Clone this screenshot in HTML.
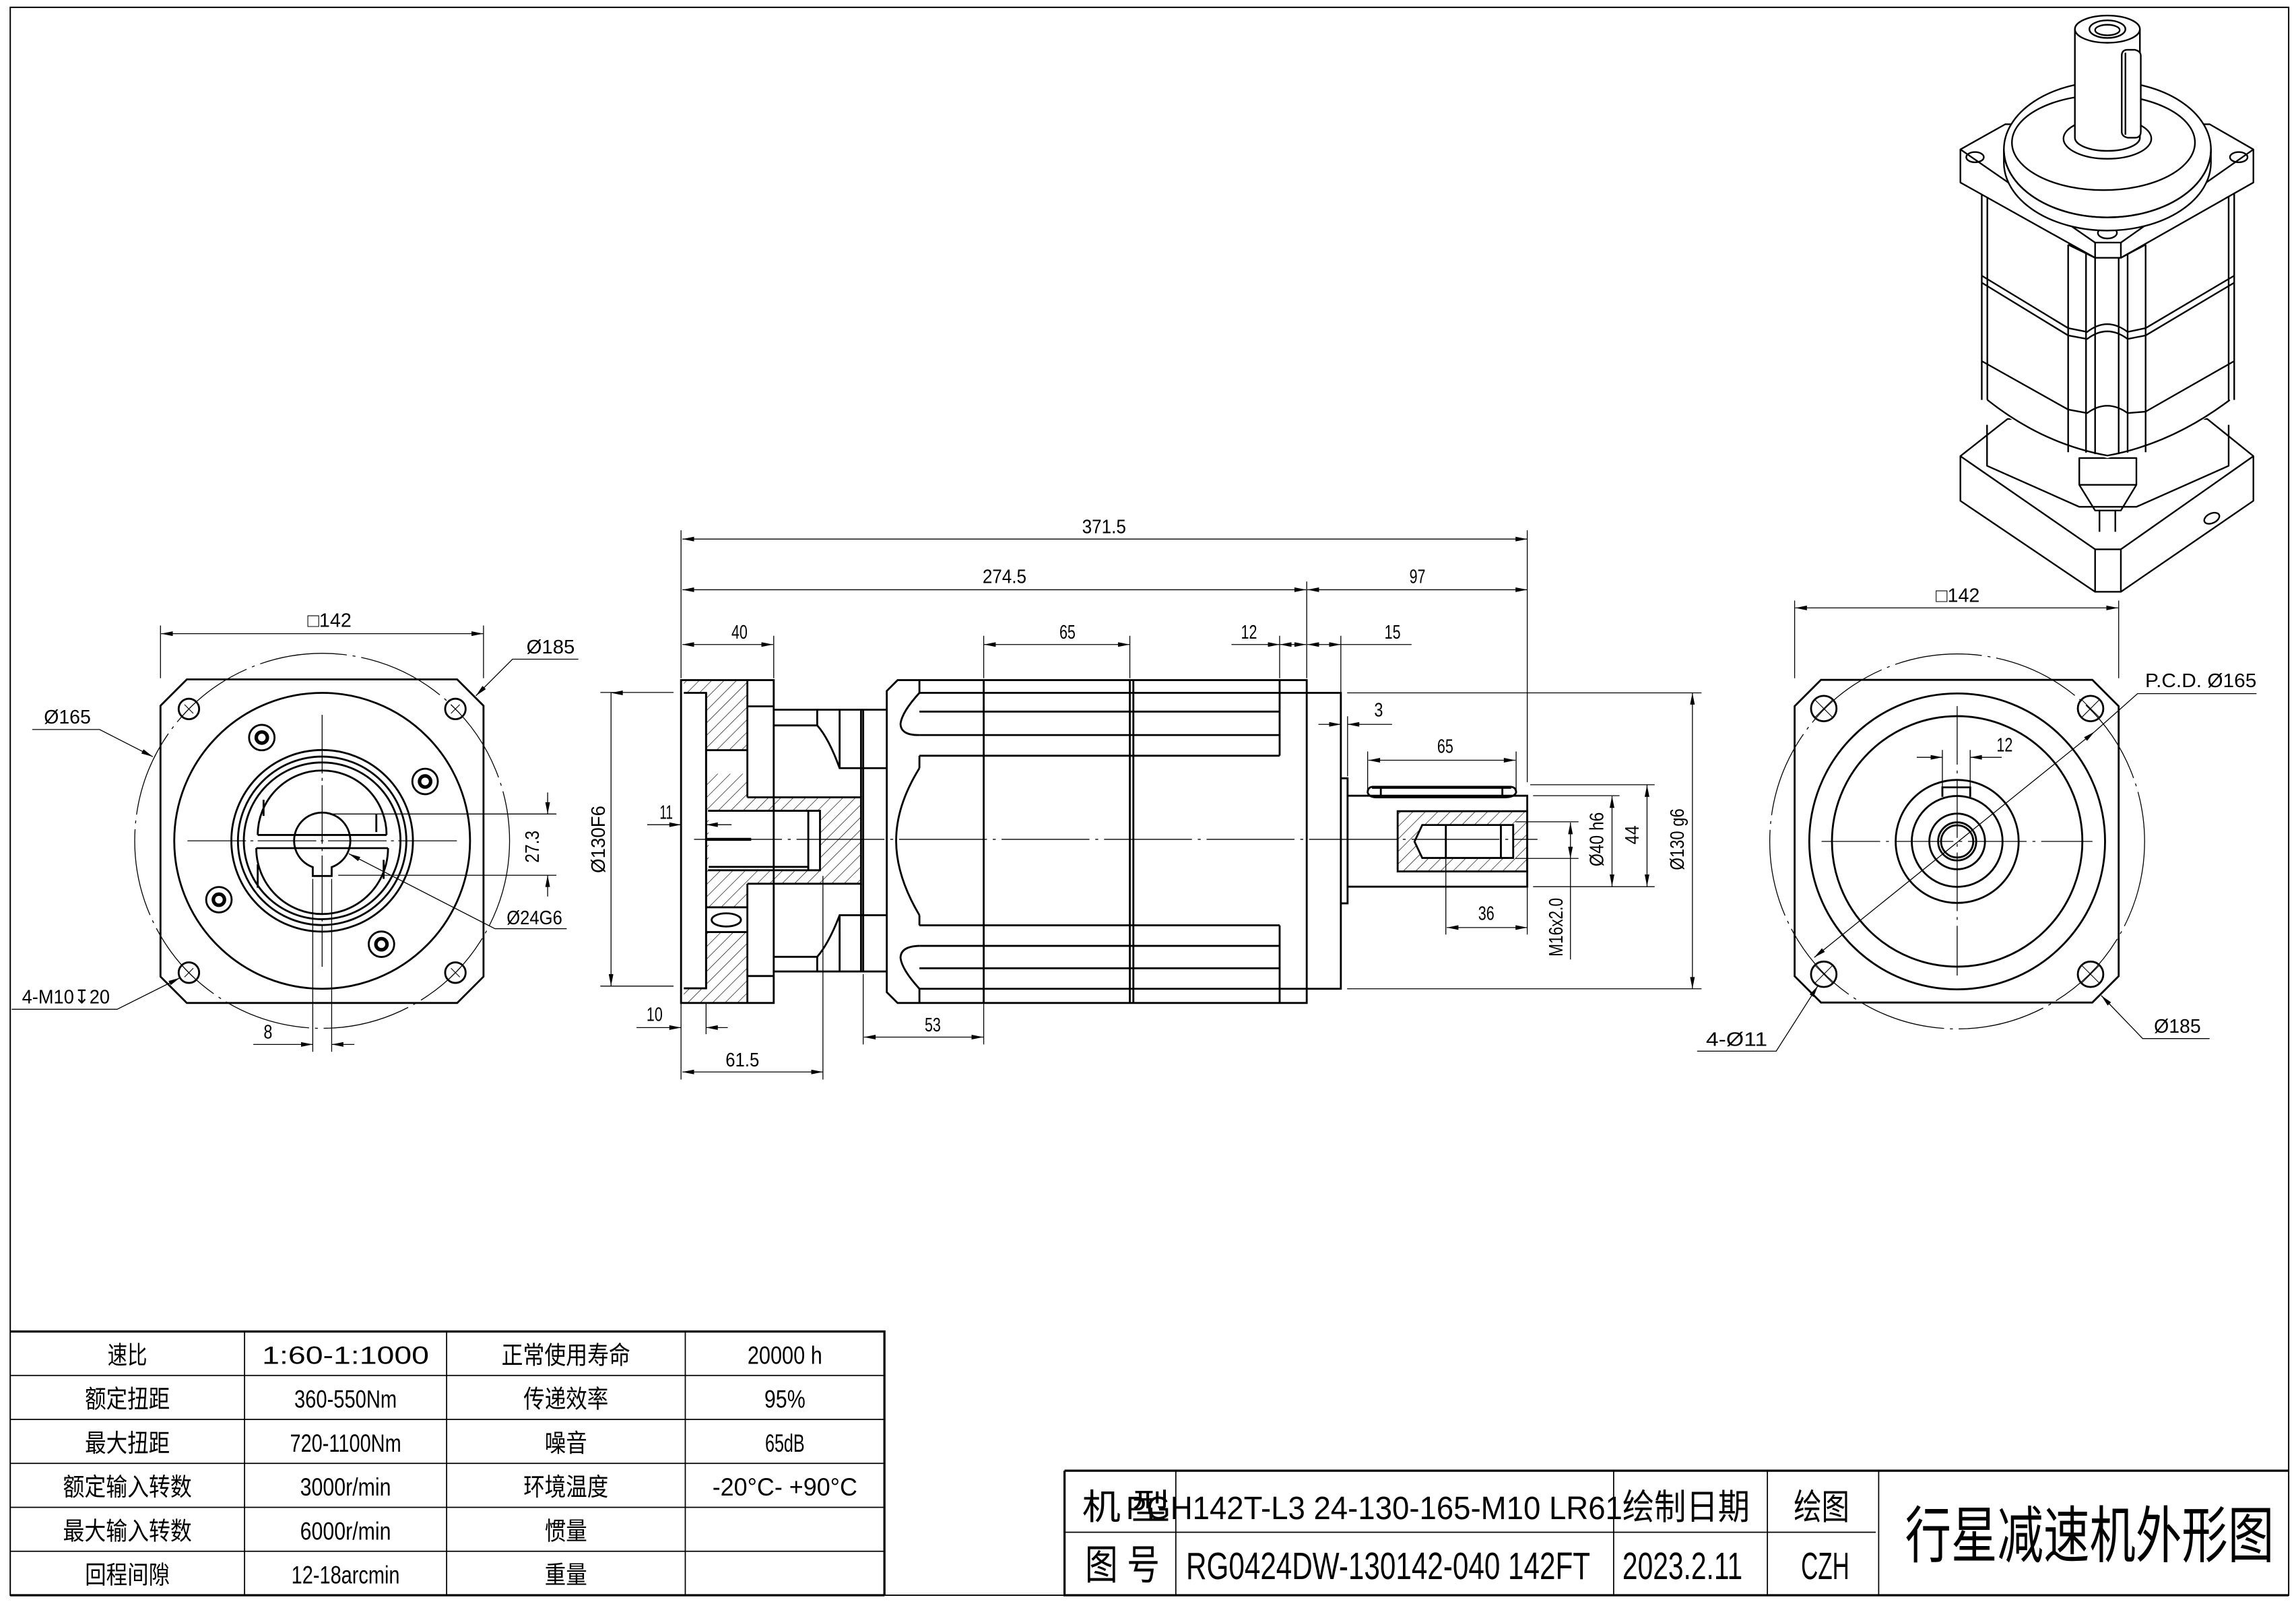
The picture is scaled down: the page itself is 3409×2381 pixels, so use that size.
<!DOCTYPE html>
<html><head><meta charset="utf-8"><style>
html,body{margin:0;padding:0;background:#fff;}
svg{display:block;}
text{font-family:"Liberation Sans","Noto Sans CJK SC",sans-serif;fill:#000;}
</style></head><body>
<svg xmlns="http://www.w3.org/2000/svg" width="3409" height="2381" viewBox="0 0 1568 1095" preserveAspectRatio="none">
<defs>
<marker id="a" viewBox="0 0 10 4" refX="10" refY="2" markerWidth="9" markerHeight="3.2" markerUnits="userSpaceOnUse" orient="auto-start-reverse"><path d="M0,0L10,2L0,4z" fill="#000"/></marker>
<pattern id="h" patternUnits="userSpaceOnUse" width="6" height="6" patternTransform="rotate(45)"><line x1="0" y1="0" x2="0" y2="6" stroke="#000" stroke-width="0.6"/></pattern>
</defs>
<rect width="1568" height="1095" fill="#fff"/>
<path d="M7,5H1563V1089H7Z" fill="none" stroke="#000" stroke-width="0.9"/>

<g fill="none" stroke="#000" stroke-width="0.6">
<g stroke-width="1.3">
<path d="M127.6,463.8H312.2L330.2,481.8V666.7L312.2,684.7H127.6L109.6,666.7V481.8Z"/>
<circle cx="220" cy="574" r="101"/>
<circle cx="220" cy="574" r="62"/>
<circle cx="220" cy="574" r="57.5"/>
<circle cx="220" cy="574" r="53.5"/>
<path d="M176,570A44,44 0 0 1 264,570"/>
<path d="M175,579A45,45 0 0 0 265,579"/>
<path d="M176,570H264M175,579H265"/>
<path d="M180,546V557M257,556V568M176,590V606M262,587V600"/>
<path d="M213.6,592A19.2,19.2 0 1 1 226.5,592V598H213.6Z"/>
<circle cx="129" cy="484" r="7"/><circle cx="311" cy="484" r="7"/>
<circle cx="129" cy="664" r="7"/><circle cx="311" cy="664" r="7"/>
<circle cx="178.8" cy="503.5" r="8.7"/><circle cx="290.3" cy="533.5" r="8.7"/>
<circle cx="149.5" cy="614.2" r="8.7"/><circle cx="260.5" cy="644.6" r="8.7"/>
</g>
<g stroke-width="2.4">
<circle cx="178.8" cy="503.5" r="3.8"/><circle cx="290.3" cy="533.5" r="3.8"/>
<circle cx="149.5" cy="614.2" r="3.8"/><circle cx="260.5" cy="644.6" r="3.8"/>
</g>
<circle cx="220" cy="574" r="128" stroke-dasharray="60,4,2,4"/>
<path d="M128,574H312M220,488V660" stroke-dasharray="40,3,2,3"/>
<path d="M126,481l6,6M132,481l-6,6M308,481l6,6M314,481l-6,6M126,661l6,6M132,661l-6,6M308,661l6,6M314,661l-6,6" stroke-width="0.5"/>
<path d="M109.6,463V427M330.2,463V427"/>
<path d="M110,432.6H330" marker-start="url(#a)" marker-end="url(#a)"/>
<path d="M325,475L350,450H395" marker-start="url(#a)"/>
<path d="M22,498H68L104.4,516.6" marker-end="url(#a)"/>
<path d="M8,689H80L123,667.5" marker-end="url(#a)"/>
<path d="M238.2,582.8L338,634H387" marker-start="url(#a)"/>
<path d="M227,555.7H380M231,597.5H380"/>
<path d="M374,541V555.7" marker-end="url(#a)"/><path d="M374,612V597.5" marker-end="url(#a)"/>
<path d="M213.6,600V718M226.5,600V718"/>
<path d="M173,713H213.6" marker-end="url(#a)"/><path d="M242,713H226.5" marker-end="url(#a)"/>

<path d="M467,464.3H510.4V512.1H482.2V473H467Z" fill="url(#h)" stroke="none"/>
<path d="M482.2,528.2H510.4V544.3H588V603.3H510.4V619.4H482.2Z M484,553.5H560V594.1H484Z" fill="url(#h)" fill-rule="evenodd" stroke="none"/>
<path d="M482.2,636.3H510.4V684.7H467V674.7H482.2Z" fill="url(#h)" stroke="none"/>
<path d="M954.5,553.8H1043V594.9H954.5Z M966,574.5L971.3,563.2H1033.4V585.7H971.3Z" fill="url(#h)" fill-rule="evenodd" stroke="none"/>
<g stroke-width="1.3">
<path d="M465.1,464.3H528.4V684.7H465.1Z"/>
<path d="M467,473H482.2V674.7H467"/>
<path d="M482.2,473V512.1H510.4M482.2,528.2V619.4H510.4M482.2,636.3V674.7"/>
<path d="M482.2,512.1V528.2M510.4,464.3V544.3M510.4,603.3V684.7M510.4,482.2H528.4M510.4,666.3H528.4M510.4,528.2V544.3M510.4,619.4V636.3H482.2"/>
<ellipse cx="496" cy="628" rx="10" ry="4.5"/>
<path d="M483.5,553.5H560V594.1H483.5M484,591.8H552M552,553.5V594.1"/>
<path d="M482.5,573H513" stroke-width="2"/>
<path d="M510.4,544.3H588V603.3H510.4"/>
<path d="M528.4,484.5H605.6M528.4,663.2H605.6M528.4,495.2H558.1Q566,504 573.4,524.4H605.6M528.4,653.2H558.1Q566,644 573.4,624.8H605.6"/>
<path d="M558.1,484.5V495.2M573.4,484.5V524.4M558.1,653.2V663.2M573.4,624.8V663.2"/>
<path d="M588,484.5V544.3M588,603.3V663.2M589.5,484.5V663.2"/>
<path d="M613,464.3H892.4V684.7H613L605.6,677.3V471.7Z"/>
<path d="M671.8,464.3V684.7M771.6,464.3V684.7M774,464.3V684.7"/>
<path d="M627.9,464.3V473M627.9,515.9V524.4M627.9,624.8V631.7M627.9,674.7V684.7"/>
<path d="M627.9,473H892.4M627.9,485.8H873.9M627.9,501.8H873.9M627.9,515.9H873.9"/>
<path d="M627.9,675H892.4M627.9,661H873.9M627.9,645.7H873.9M627.9,631.7H873.9"/>
<path d="M873.9,464.3V515.9M873.9,631.7V684.7"/>
<path d="M627.9,473Q616,486 615,494Q615,502 627.9,501.8"/>
<path d="M627.9,675Q616,662 615,654Q615,646 627.9,645.7"/>
<path d="M627.9,524.4Q612,550 612,574Q612,598 627.9,624.8"/>
<path d="M892.4,473H915.7V675H892.4"/>
<path d="M915.7,531.3H920.3V616.7H915.7"/>
<path d="M920.3,543.2H1043V605.3H920.3"/>
<path d="M938,537.1H1031Q1035.4,537.1 1035.4,541Q1034,544.3 1028,544.3H940Q935,544.3 934,541Q934,537.1 938,537.1Z"/>
<path d="M943,537.5V544M1026,537.5V544"/>
<path d="M954.5,553.8H1043V594.9H954.5Z"/>
<path d="M971.3,563.2H1033.4V585.7H971.3L966,574.5Z"/>
<path d="M987.4,563.2V585.7M1025,563.2V585.7"/>
<path d="M937,537.5H1032" stroke-width="2"/>
</g>
<path d="M474,573H1050" stroke-dasharray="60,4,2,4"/>
<path d="M465.1,463V362M1043,534V362M892.4,463V397M528.4,463V434M671.8,463V434M771.6,463V434M873.9,463V434M915.7,473V434M920.3,530V489"/>
<path d="M466,368H1043" marker-start="url(#a)" marker-end="url(#a)"/>
<path d="M466,402.6H892" marker-start="url(#a)" marker-end="url(#a)"/>
<path d="M892.8,402.6H1043" marker-start="url(#a)" marker-end="url(#a)"/>
<path d="M466,440H528" marker-start="url(#a)" marker-end="url(#a)"/>
<path d="M672,440H771.5" marker-start="url(#a)" marker-end="url(#a)"/>
<path d="M841,440H873.9" marker-end="url(#a)"/>
<path d="M874,440H892" marker-start="url(#a)" marker-end="url(#a)"/>
<path d="M892.8,440H915.7" marker-start="url(#a)" marker-end="url(#a)"/>
<path d="M916,440H964"/>
<path d="M900.4,494.5H915.7" marker-end="url(#a)"/><path d="M950.7,494.5H920.3" marker-end="url(#a)"/>
<path d="M934,541V513M1035.4,541V513"/>
<path d="M934.5,519H1035" marker-start="url(#a)" marker-end="url(#a)"/>
<path d="M987.4,586V638M1043,606V638"/>
<path d="M988,633.2H1043" marker-start="url(#a)" marker-end="url(#a)"/>
<path d="M410,472.7H460M410,673.2H460"/>
<path d="M417.3,473H417.3V673" marker-start="url(#a)" marker-end="url(#a)"/>
<path d="M442,563H465.1" marker-end="url(#a)"/><path d="M499.6,563H482.2" marker-end="url(#a)"/>
<path d="M465.1,685V737M482.2,685V706M562,598V737M589.5,665V713M671.8,685V713"/>
<path d="M434.7,701.5H465.1" marker-end="url(#a)"/><path d="M497,701.5H482.2" marker-end="url(#a)"/>
<path d="M590,708H671.5" marker-start="url(#a)" marker-end="url(#a)"/>
<path d="M466,731.8H562" marker-start="url(#a)" marker-end="url(#a)"/>
<path d="M920,473H1162M920,675H1162M1045,535.7H1130M1047,543.2H1106M1047,605.3H1130M1035,561H1078M1035,586H1078"/>
<path d="M1155.8,473V675" marker-start="url(#a)" marker-end="url(#a)"/>
<path d="M1124.8,536V605" marker-start="url(#a)" marker-end="url(#a)"/>
<path d="M1100.9,543.5V605" marker-start="url(#a)" marker-end="url(#a)"/>
<path d="M1072.5,561.5V586" marker-start="url(#a)" marker-end="url(#a)"/>
<path d="M1072.5,586V655"/>

<g stroke-width="1.3">
<path d="M1243.6,464.1H1428.9L1446.9,482.1V666.4L1428.9,684.4H1243.6L1225.6,666.4V482.1Z"/>
<circle cx="1336.6" cy="574.4" r="101"/>
<circle cx="1336.6" cy="574.4" r="85.5"/>
<circle cx="1336.6" cy="574.4" r="42"/>
<circle cx="1336.6" cy="574.4" r="31"/>
<circle cx="1336.6" cy="574.4" r="19"/>
<circle cx="1336.6" cy="574.4" r="13"/>
<circle cx="1336.6" cy="574.4" r="11"/>
<path d="M1326.5,544V537.5H1345.5V544"/>
<circle cx="1245.5" cy="483.7" r="8.7"/><circle cx="1427.7" cy="483.7" r="8.7"/>
<circle cx="1245.5" cy="665.1" r="8.7"/><circle cx="1427.7" cy="665.1" r="8.7"/>
</g>
<circle cx="1336.6" cy="574.4" r="128" stroke-dasharray="60,4,2,4"/>
<path d="M1244,574.4H1429M1336.6,482V666" stroke-dasharray="40,4,2,4"/>
<path d="M1239.5,477.7l12,12M1251.5,477.7l-12,12M1421.7,477.7l12,12M1433.7,477.7l-12,12M1239.5,659.1l12,12M1251.5,659.1l-12,12M1421.7,659.1l12,12M1433.7,659.1l-12,12" stroke-width="0.5"/>
<path d="M1225.6,463V410M1446.9,463V410"/>
<path d="M1226,415H1446.5" marker-start="url(#a)" marker-end="url(#a)"/>
<path d="M1326.5,537V512M1345.5,537V512"/>
<path d="M1309,517H1326.5" marker-end="url(#a)"/><path d="M1367,517H1345.5" marker-end="url(#a)"/>
<path d="M1239,653.6L1430.5,499.5" marker-start="url(#a)" marker-end="url(#a)"/>
<path d="M1430.5,499.5L1459.8,473.5H1541"/>
<path d="M1159,717.6H1213L1241.5,673" marker-end="url(#a)"/>
<path d="M1509,709H1463.3L1435,679.6" marker-end="url(#a)"/>

<g stroke-width="1.1" stroke-linejoin="round">
<path d="M1338.8,311.4L1371,286L1507.4,286L1538.9,311.4V341.9L1448.4,404H1430.8L1338.8,341.9Z" fill="#fff"/>
<path d="M1338.8,311.4L1430.8,375H1448.4L1538.9,311.4M1430.8,375V404M1448.4,375V404"/>
<path d="M1357,290V318L1420,346H1459L1522,318V290"/>
<path d="M1420,312.7H1459V331H1420Z M1420,331L1430.8,348.5H1448.4L1459,331M1433.8,348.5V363M1444.6,348.5V363"/>
<ellipse cx="1510.5" cy="353.8" rx="5.5" ry="3.3" transform="rotate(-25 1510.5 353.8)"/>
<path d="M1353.4,124V273Q1395,303 1439.2,312.7Q1483,303 1525.8,273V124Z" fill="#fff" stroke="none"/>
<path d="M1353.4,130V273M1357.2,130V273M1522,130V273M1525.8,130V273"/>
<path d="M1357.2,273Q1395,303 1439.2,311Q1483,303 1522.8,273"/>
<path d="M1353.4,188.2L1412.4,224L1425.4,226.6Q1439,216 1453,226.6L1465.3,224L1525.8,188.2"/>
<path d="M1353.4,193L1412.4,229L1425.4,231.4Q1439,221 1453,231.4L1465.3,229L1525.8,193"/>
<path d="M1353.4,246.5L1412.4,279.6L1425.4,282Q1439,272 1453,282L1465.3,281L1525.8,246.5"/>
<path d="M1412.4,167V308.7M1424.6,173V309M1430.8,176V310M1446.9,176V310M1453,173V309M1465.3,167V308.7"/>
<path d="M1412.4,167L1430.8,176M1465.3,167L1448.4,176"/>
<path d="M1369.5,84.8L1338.8,102V124.6L1430.8,176H1448.4L1538.9,124.6V102L1509,84.8Z" fill="#fff"/>
<path d="M1338.8,102L1430.8,165.6H1448.4L1538.9,102M1430.8,165.6V176M1448.4,165.6V176"/>
<ellipse cx="1348.8" cy="107.3" rx="6" ry="3.5"/>
<ellipse cx="1528.9" cy="107.3" rx="6" ry="3.5"/>
<ellipse cx="1439.2" cy="159" rx="6.5" ry="3.8"/>
<path d="M1368.5,102V111A70.7,46.4 0 0 0 1509.9,111V102Z" fill="#fff"/>
<ellipse cx="1439.2" cy="102" rx="70.7" ry="46.4" fill="#fff"/>
<path d="M1368.5,102A70.7,46.4 0 0 0 1509.9,102"/>
<ellipse cx="1436.5" cy="97.3" rx="62.5" ry="32.5"/>
<ellipse cx="1439.2" cy="94.6" rx="30" ry="13.8" fill="#fff"/>
<path d="M1417,19.9V94A22.2,9 0 0 0 1461.4,94V19.9Z" fill="#fff"/>
<ellipse cx="1439.2" cy="19.9" rx="22.2" ry="9.3" fill="#fff"/>
<ellipse cx="1439.2" cy="19.9" rx="12.3" ry="6"/>
<ellipse cx="1439.2" cy="20.5" rx="8.4" ry="3.6"/>
<path d="M1449,38Q1449,34 1453,34H1458Q1462,35 1462,38V90Q1462,94 1458,94H1453Q1449,93 1449,90Z" fill="#fff"/>
<path d="M1451.5,36V92"/>
</g>

<g stroke-width="0.8">
<path d="M7,939H604M7,969H604M7,999H604M7,1029H604M7,1059H604"/>
<path d="M167,909V1089M305,909V1089M468,909V1089"/>
<path d="M727,1046H1281M803,1004V1089M1102,1004V1089M1207,1004V1089M1283,1004V1089"/>
</g>
<g stroke-width="1.5">
<path d="M7,909H604V1089M7,1089H604"/>
<path d="M727,1004H1563M727,1004V1089H1563"/>
</g>
</g>

<g font-size="13">
<text x="754" y="364" text-anchor="middle" textLength="30" lengthAdjust="spacingAndGlyphs">371.5</text>
<text x="686" y="398" text-anchor="middle" textLength="30" lengthAdjust="spacingAndGlyphs">274.5</text>
<text x="968" y="398" text-anchor="middle" textLength="11" lengthAdjust="spacingAndGlyphs">97</text>
<text x="505" y="436" text-anchor="middle" textLength="11" lengthAdjust="spacingAndGlyphs">40</text>
<text x="729" y="436" text-anchor="middle" textLength="11" lengthAdjust="spacingAndGlyphs">65</text>
<text x="853" y="436" text-anchor="middle" textLength="11" lengthAdjust="spacingAndGlyphs">12</text>
<text x="951" y="436" text-anchor="middle" textLength="11" lengthAdjust="spacingAndGlyphs">15</text>
<text x="941.5" y="489" text-anchor="middle" textLength="6" lengthAdjust="spacingAndGlyphs">3</text>
<text x="987" y="514" text-anchor="middle" textLength="11" lengthAdjust="spacingAndGlyphs">65</text>
<text x="1015" y="628" text-anchor="middle" textLength="11" lengthAdjust="spacingAndGlyphs">36</text>
<text x="455" y="559" text-anchor="middle" textLength="9" lengthAdjust="spacingAndGlyphs">11</text>
<text x="447" y="697" text-anchor="middle" textLength="11" lengthAdjust="spacingAndGlyphs">10</text>
<text x="637" y="704" text-anchor="middle" textLength="11" lengthAdjust="spacingAndGlyphs">53</text>
<text x="507" y="728" text-anchor="middle" textLength="23" lengthAdjust="spacingAndGlyphs">61.5</text>
<text transform="translate(413,573) rotate(-90)" text-anchor="middle" textLength="46" lengthAdjust="spacingAndGlyphs">Ø130F6</text>
<text transform="translate(1150,573) rotate(-90)" text-anchor="middle" textLength="42" lengthAdjust="spacingAndGlyphs">Ø130 g6</text>
<text transform="translate(1119,570) rotate(-90)" text-anchor="middle" textLength="13" lengthAdjust="spacingAndGlyphs">44</text>
<text transform="translate(1095,573) rotate(-90)" text-anchor="middle" textLength="37" lengthAdjust="spacingAndGlyphs">Ø40 h6</text>
<text transform="translate(1067,633) rotate(-90)" text-anchor="middle" textLength="40" lengthAdjust="spacingAndGlyphs">M16x2.0</text>
<text x="225" y="428" text-anchor="middle" textLength="30" lengthAdjust="spacingAndGlyphs">□142</text>
<text x="376" y="446" text-anchor="middle" textLength="33" lengthAdjust="spacingAndGlyphs">Ø185</text>
<text x="46" y="494" text-anchor="middle" textLength="32" lengthAdjust="spacingAndGlyphs">Ø165</text>
<text transform="translate(368,578) rotate(-90)" text-anchor="middle" textLength="22" lengthAdjust="spacingAndGlyphs">27.3</text>
<text x="365" y="631" text-anchor="middle" textLength="38" lengthAdjust="spacingAndGlyphs">Ø24G6</text>
<text x="45" y="685" text-anchor="middle" textLength="60" lengthAdjust="spacingAndGlyphs">4-M10↧20</text>
<text x="183" y="709" text-anchor="middle" textLength="6" lengthAdjust="spacingAndGlyphs">8</text>
<text x="1337" y="411" text-anchor="middle" textLength="30" lengthAdjust="spacingAndGlyphs">□142</text>
<text x="1369" y="513" text-anchor="middle" textLength="11" lengthAdjust="spacingAndGlyphs">12</text>
<text x="1503" y="469" text-anchor="middle" textLength="76" lengthAdjust="spacingAndGlyphs">P.C.D. Ø165</text>
<text x="1186" y="714" text-anchor="middle" textLength="42" lengthAdjust="spacingAndGlyphs">4-Ø11</text>
<text x="1487" y="705" text-anchor="middle" textLength="32" lengthAdjust="spacingAndGlyphs">Ø185</text>
</g>
<g font-size="17" text-anchor="middle">
<text x="87" y="931" textLength="27" lengthAdjust="spacingAndGlyphs">速比</text>
<text x="236" y="931" textLength="114" lengthAdjust="spacingAndGlyphs">1:60-1:1000</text>
<text x="386.5" y="931" textLength="88" lengthAdjust="spacingAndGlyphs">正常使用寿命</text>
<text x="536" y="931" textLength="51" lengthAdjust="spacingAndGlyphs">20000 h</text>
<text x="87" y="961" textLength="58" lengthAdjust="spacingAndGlyphs">额定扭距</text>
<text x="236" y="961" textLength="70" lengthAdjust="spacingAndGlyphs">360-550Nm</text>
<text x="386.5" y="961" textLength="58" lengthAdjust="spacingAndGlyphs">传递效率</text>
<text x="536" y="961" textLength="28" lengthAdjust="spacingAndGlyphs">95%</text>
<text x="87" y="991" textLength="58" lengthAdjust="spacingAndGlyphs">最大扭距</text>
<text x="236" y="991" textLength="76" lengthAdjust="spacingAndGlyphs">720-1100Nm</text>
<text x="386.5" y="991" textLength="29" lengthAdjust="spacingAndGlyphs">噪音</text>
<text x="536" y="991" textLength="27" lengthAdjust="spacingAndGlyphs">65dB</text>
<text x="87" y="1021" textLength="88" lengthAdjust="spacingAndGlyphs">额定输入转数</text>
<text x="236" y="1021" textLength="62" lengthAdjust="spacingAndGlyphs">3000r/min</text>
<text x="386.5" y="1021" textLength="58" lengthAdjust="spacingAndGlyphs">环境温度</text>
<text x="536" y="1021" textLength="99" lengthAdjust="spacingAndGlyphs">-20°C- +90°C</text>
<text x="87" y="1051" textLength="88" lengthAdjust="spacingAndGlyphs">最大输入转数</text>
<text x="236" y="1051" textLength="62" lengthAdjust="spacingAndGlyphs">6000r/min</text>
<text x="386.5" y="1051" textLength="29" lengthAdjust="spacingAndGlyphs">惯量</text>
<text x="87" y="1081" textLength="58" lengthAdjust="spacingAndGlyphs">回程间隙</text>
<text x="236" y="1081" textLength="74" lengthAdjust="spacingAndGlyphs">12-18arcmin</text>
<text x="386.5" y="1081" textLength="29" lengthAdjust="spacingAndGlyphs">重量</text>
</g>
<g font-size="24">
<text x="739" y="1037" textLength="60" lengthAdjust="spacingAndGlyphs">机  型</text>
<text x="769" y="1037" font-size="22" textLength="339" lengthAdjust="spacingAndGlyphs">PGH142T-L3  24-130-165-M10 LR61</text>
<text x="1108" y="1037" textLength="87" lengthAdjust="spacingAndGlyphs">绘制日期</text>
<text x="1225" y="1037" textLength="38" lengthAdjust="spacingAndGlyphs">绘图</text>
<text x="741" y="1078" font-size="28" textLength="51" lengthAdjust="spacingAndGlyphs">图 号</text>
<text x="810" y="1078" font-size="26" textLength="276" lengthAdjust="spacingAndGlyphs">RG0424DW-130142-040 142FT</text>
<text x="1108" y="1078" font-size="26" textLength="82" lengthAdjust="spacingAndGlyphs">2023.2.11</text>
<text x="1230" y="1078" font-size="26" textLength="33" lengthAdjust="spacingAndGlyphs">CZH</text>
<text x="1301" y="1063" font-size="42" textLength="252" lengthAdjust="spacingAndGlyphs">行星减速机外形图</text>
</g>
</svg>
</body></html>
